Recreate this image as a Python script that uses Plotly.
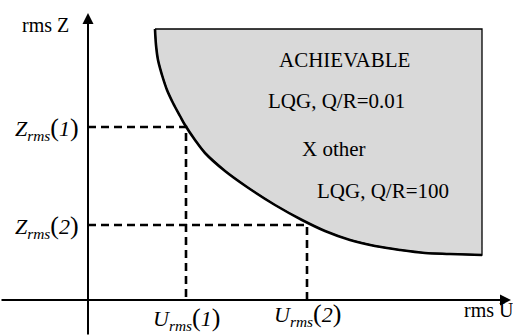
import plotly.graph_objects as go

# achievable boundary (rms U, rms Z), arbitrary units
boundary_u = [67, 68, 70, 74, 79, 85, 92, 97, 107, 117, 137, 159, 187, 214, 237, 262, 287, 312, 337, 362, 394]
boundary_z = [271, 255, 240, 225, 210, 197, 184, 175, 160, 147, 129, 113, 95, 80, 69, 60, 54, 50, 47, 46, 45]
region_top = 271
region_right = 394

# operating points 1 and 2
u_rms = [98, 219]
z_rms = [173, 75]
point_names = ["1", "2"]

region_texts = ["ACHIEVABLE", "LQG, Q/R=0.01", "X other", "LQG, Q/R=100"]
region_text_u = [256, 248, 246, 295]
region_text_z = [240, 199, 151, 109]

serif = "Liberation Serif, Times New Roman, serif"

fig = go.Figure()

# shaded achievable region
fig.add_trace(go.Scatter(
    x=boundary_u + [region_right, boundary_u[0]],
    y=boundary_z + [region_top, region_top],
    fill="toself", fillcolor="#d9d9d9",
    mode="lines", line=dict(color="black", width=1.3),
    hoverinfo="skip", showlegend=False))

# the trade-off curve itself
fig.add_trace(go.Scatter(
    x=boundary_u, y=boundary_z, mode="lines",
    line=dict(color="black", width=2.6, shape="spline", smoothing=1),
    hoverinfo="skip", showlegend=False))

# dashed guides to the axes
for u, z in zip(u_rms, z_rms):
    fig.add_trace(go.Scatter(
        x=[0, u, u], y=[z, z, 0], mode="lines",
        line=dict(color="black", width=2.6, dash="8px,5px"),
        hoverinfo="skip", showlegend=False))

# axes with arrows
fig.add_annotation(x=423, y=0, ax=-88, ay=0, xref="x", yref="y", axref="x", ayref="y",
                   text="", showarrow=True, arrowhead=2, arrowsize=1.1, arrowwidth=2,
                   arrowcolor="black")
fig.add_annotation(x=0, y=287, ax=0, ay=-36, xref="x", yref="y", axref="x", ayref="y",
                   text="", showarrow=True, arrowhead=2, arrowsize=1.1, arrowwidth=2,
                   arrowcolor="black")

fig.add_annotation(x=-43, y=275, text="rms Z", showarrow=False,
                   font=dict(family=serif, size=20, color="black"))
fig.add_annotation(x=374, y=-10, text="rms U", showarrow=False, xanchor="left",
                   font=dict(family=serif, size=20, color="black"))

for u, z, name in zip(u_rms, z_rms, point_names):
    fig.add_annotation(x=-7, y=z - 1, xanchor="right", showarrow=False,
                       text="<i>Z</i><sub><i>rms</i></sub><span style='font-size:26px'>(</span>"
                            "<i>" + name + "</i><span style='font-size:26px'>)</span>",
                       font=dict(family=serif, size=22, color="black"))
    fig.add_annotation(x=u, y=-18 + (u - 98) * 0.03, showarrow=False,
                       text="<i>U</i><sub><i>rms</i></sub><span style='font-size:26px'>(</span>"
                            "<i>" + name + "</i><span style='font-size:26px'>)</span>",
                       font=dict(family=serif, size=22, color="black"))

for t, u, z in zip(region_texts, region_text_u, region_text_z):
    fig.add_annotation(x=u, y=z, text=t, showarrow=False,
                       font=dict(family=serif, size=21, color="black"))

fig.update_xaxes(range=[-88, 425], visible=False)
fig.update_yaxes(range=[-36, 300], visible=False)
fig.update_layout(width=513, height=336, margin=dict(l=0, r=0, t=0, b=0),
                  plot_bgcolor="white", paper_bgcolor="white")

fig.write_html("out.html", config={"displayModeBar": False},
               post_script="document.body.style.margin='0px';")
